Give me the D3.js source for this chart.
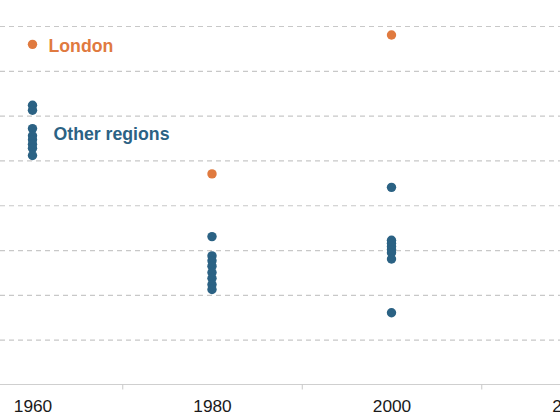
<!DOCTYPE html>
<html>
<head>
<meta charset="utf-8">
<script src="https://cdn.jsdelivr.net/npm/d3@7"></script>
<style>
  body { margin: 0; background: #fff; }
  svg { display: block; font-family: "Liberation Sans", Arial, sans-serif; }
</style>
</head>
<body>
<script>
// Data (arbitrary units: gridlines at 1..8)
const years = [1960, 1980, 2000];
const london = [7.59, 4.70, 7.80];
const others1960 = [6.23, 6.12, 5.71, 5.55, 5.46, 5.36, 5.27, 5.11];
const others1980 = [3.30, 2.87, 2.76, 2.64, 2.50, 2.37, 2.23, 2.12];
const others2000 = [4.40, 3.22, 3.15, 3.08, 3.01, 2.94, 2.80, 1.60];
const labelTicks = [1960, 1980, 2000, 2020];
const minorTicks = [1970, 1990, 2010];
const gridValues = [1, 2, 3, 4, 5, 6, 7, 8];

const W = 560, H = 420;
const orange = "#e07a3f", blue = "#2b6284";

const svg = d3.select("body").append("svg")
  .attr("width", W)
  .attr("height", H);

// Scales
const x = d3.scaleLinear().domain([1960, 2020]).range([32.5, 571]);
const y = d3.scaleLinear().domain([0, 8]).range([384.5, 26]);

// Gridlines
const grid = svg.append("g")
  .call(d3.axisLeft(y).tickValues(gridValues).tickSize(-W).tickFormat(""));
grid.select(".domain").remove();
grid.selectAll("line")
  .attr("stroke", "#c8c8c8")
  .attr("stroke-width", 1.2)
  .attr("stroke-dasharray", "5,4");

// Baseline
svg.append("line")
  .attr("x1", 0).attr("x2", W)
  .attr("y1", y(0)).attr("y2", y(0))
  .attr("stroke", "#cfcfcf")
  .attr("stroke-width", 1.2);

// Year labels
const xLab = svg.append("g")
  .attr("transform", "translate(0," + y(0) + ")")
  .call(d3.axisBottom(x).tickValues(labelTicks).tickSize(0).tickPadding(15).tickFormat(d3.format("d")));
xLab.select(".domain").remove();
xLab.selectAll("text")
  .attr("fill", "#1a1a1a")
  .style("font-size", "17.3px");

// Minor ticks between labels
const xMin = svg.append("g")
  .attr("transform", "translate(0," + y(0) + ")")
  .call(d3.axisBottom(x).tickValues(minorTicks).tickSize(5).tickFormat(""));
xMin.select(".domain").remove();
xMin.selectAll("line").attr("stroke", "#c8c8c8");

// Other regions
const others = [others1960, others1980, others2000];
const otherPts = [];
others.forEach((vals, i) => vals.forEach(v => otherPts.push({year: years[i], value: v})));

svg.append("g").selectAll("circle")
  .data(otherPts)
  .enter().append("circle")
  .attr("cx", d => x(d.year))
  .attr("cy", d => y(d.value))
  .attr("r", 4.7)
  .attr("fill", blue);

// London
svg.append("g").selectAll("circle")
  .data(years.map((yr, i) => ({year: yr, value: london[i]})))
  .enter().append("circle")
  .attr("cx", d => x(d.year))
  .attr("cy", d => y(d.value))
  .attr("r", 4.7)
  .attr("fill", orange);

// Labels
svg.append("text")
  .attr("x", x(1960) + 16)
  .attr("y", y(london[0]) + 7.5)
  .attr("fill", orange)
  .style("font-size", "17.7px")
  .style("font-weight", "bold")
  .text("London");

svg.append("text")
  .attr("x", x(1960) + 21)
  .attr("y", 139.5)
  .attr("fill", blue)
  .style("font-size", "17.7px")
  .style("font-weight", "bold")
  .text("Other regions");
</script>
</body>
</html>
